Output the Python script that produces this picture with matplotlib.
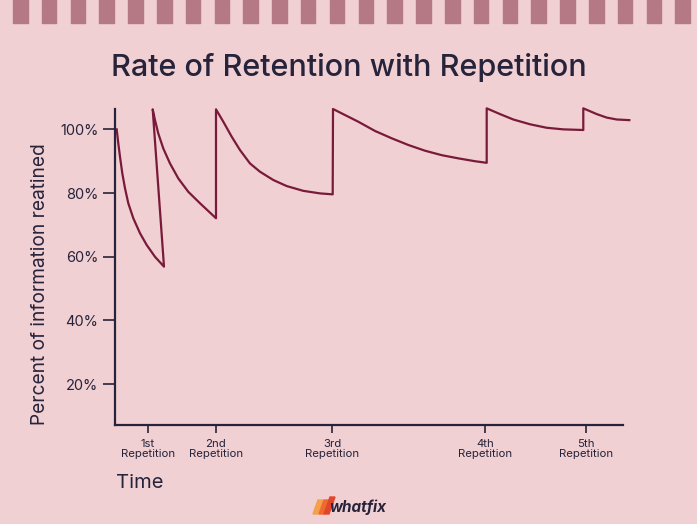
import matplotlib.pyplot as plt
from matplotlib.patches import Rectangle, Polygon

# curve points (time units, percent retained)
seg_time = [
    [0.17, 0.33, 0.5, 0.73, 1.0, 1.33, 1.83, 2.5, 3.17, 4.0, 4.9],
    [3.77, 4.0, 4.33, 4.83, 5.5, 6.33, 7.33, 8.5, 10.1],
    [10.1, 10.83, 11.67, 12.5, 13.5, 14.5, 15.83, 17.17, 18.83, 20.5, 21.77],
    [21.8, 23.0, 24.33, 26.0, 27.67, 29.33, 31.0, 32.67, 34.33, 36.0, 37.17],
    [37.17, 38.5, 39.83, 41.5, 43.17, 44.83, 46.83],
    [46.83, 48.17, 49.17, 50.17, 51.43],
]
seg_value = [
    [100.0, 95.6, 91.4, 86.2, 81.5, 76.8, 72.1, 67.4, 63.7, 60.0, 56.9],
    [106.3, 102.9, 98.7, 94.0, 89.3, 84.6, 80.4, 76.8, 72.1],
    [106.3, 102.4, 97.7, 93.5, 89.3, 86.7, 84.1, 82.2, 80.7, 79.9, 79.6],
    [106.4, 104.5, 102.4, 99.5, 97.2, 95.1, 93.3, 91.9, 90.9, 90.0, 89.5],
    [106.6, 104.8, 103.1, 101.6, 100.5, 100.0, 99.8],
    [106.6, 104.8, 103.7, 103.1, 102.9],
]
rep_ticks = [3.3, 10.1, 21.7, 37.0, 47.1]
rep_labels = ["1st\nRepetition", "2nd\nRepetition", "3rd\nRepetition",
              "4th\nRepetition", "5th\nRepetition"]
y_ticks = [20, 40, 60, 80, 100]
y_labels = ["20%", "40%", "60%", "80%", "100%"]

bg = "#f0d0d2"
navy = "#26233b"
wine = "#7a1a3a"

plt.rcParams["font.family"] = ["Inter", "DejaVu Sans"]

fig = plt.figure(figsize=(6.97, 5.24), dpi=100, facecolor=bg)
ax = fig.add_axes([115 / 697, 1 - 425.3 / 524, 508 / 697, (425.3 - 109.3) / 524])
ax.set_facecolor(bg)

# join segments into one path (the jumps are part of the line)
xs, ys = [], []
for t, v in zip(seg_time, seg_value):
    xs += t
    ys += v
ax.plot(xs, ys, color=wine, lw=1.6, clip_on=False)

ax.set_xlim(0, 50.8)
ax.set_ylim(7.1, 106.3)
for s in ["top", "right"]:
    ax.spines[s].set_visible(False)
for s in ["left", "bottom"]:
    ax.spines[s].set_color(navy)
    ax.spines[s].set_linewidth(1.6)

ax.set_yticks(y_ticks)
ax.set_yticklabels(y_labels, fontsize=10.5, color=navy)
ax.set_xticks(rep_ticks)
ax.set_xticklabels(rep_labels, fontsize=8.2, color=navy, linespacing=1.0)
ax.tick_params(axis="y", length=9, width=1.2, color=navy, pad=3)
ax.tick_params(axis="x", length=6, width=1.2, color=navy, pad=4)

fig.text(0.5, 1 - 68 / 524, "Rate of Retention with Repetition", ha="center",
         va="center", fontsize=22, color=navy, fontweight="medium")
fig.text(40 / 697, 1 - 284 / 524, "Percent of information reatined", rotation=90,
         ha="center", va="center", fontsize=13.8, color=navy)
fig.text(116 / 697, 1 - 483 / 524, "Time", ha="left", va="center",
         fontsize=14.5, color=navy)

# top stripes
for i in range(24):
    x0 = 12.9 + i * 28.8
    fig.patches.append(Rectangle((x0 / 697, 1 - 23 / 524), 14.6 / 697, 23 / 524,
                                 transform=fig.transFigure, color="#b57885"))

# whatfix logo
def px(x, y):
    return (x / 697, 1 - y / 524)

fig.patches.append(Polygon([px(313, 514), px(318, 500), px(323, 500), px(318, 514)],
                           closed=True, transform=fig.transFigure, color="#f5a04a"))
fig.patches.append(Polygon([px(319, 514), px(324, 500), px(329, 500), px(324, 514)],
                           closed=True, transform=fig.transFigure, color="#ee6a2f"))
fig.patches.append(Polygon([px(324, 514), px(330, 497), px(335, 497), px(329, 514)],
                           closed=True, transform=fig.transFigure, color="#e2462a"))
fig.text(329 / 697, 1 - 507 / 524, "whatfix", ha="left", va="center",
         fontsize=11, color=navy, fontweight="bold", fontstyle="italic")

fig.savefig("out.png", dpi=100, facecolor=bg)
